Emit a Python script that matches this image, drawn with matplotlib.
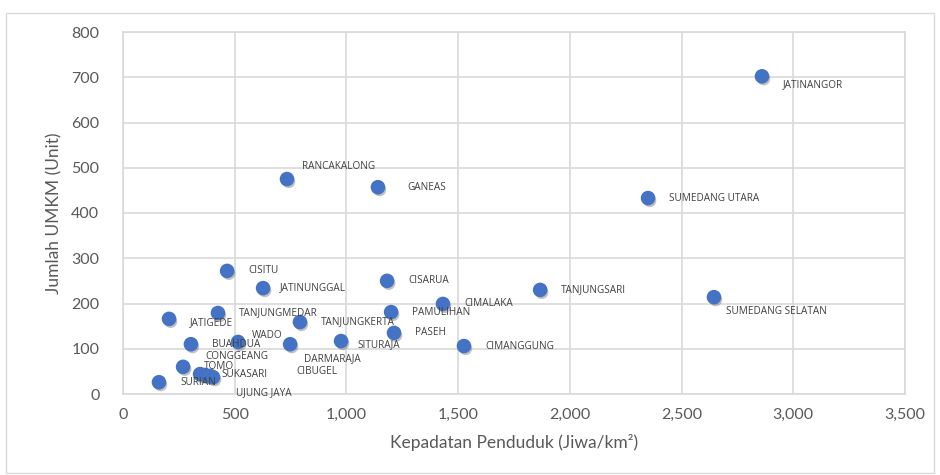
import numpy as np
import matplotlib
matplotlib.use("Agg")
import matplotlib.pyplot as plt
import matplotlib.patheffects as pe
from matplotlib.patches import Rectangle

names = ["JATINANGOR", "SUMEDANG UTARA", "SUMEDANG SELATAN", "TANJUNGSARI",
         "CIMANGGUNG", "CIMALAKA", "PAMULIHAN", "PASEH", "CISARUA", "GANEAS",
         "RANCAKALONG", "CISITU", "JATINUNGGAL", "TANJUNGMEDAR", "JATIGEDE",
         "TANJUNGKERTA", "WADO", "BUAHDUA", "DARMARAJA", "SITURAJA",
         "TOMO", "SUKASARI", "UJUNG JAYA", "CONGGEANG", "CIBUGEL", "SURIAN"]
kepadatan = [2860, 2350, 2645, 1867, 1526, 1432, 1200, 1213, 1182, 1141,
             734, 466, 627, 425, 206, 792, 515, 304, 748, 976,
             269, 345, 403, 367, 390, 161]
umkm = [702, 433, 214, 230, 106, 199, 181, 135, 250, 457,
        475, 272, 234, 179, 166, 159, 115, 110, 110, 117,
        60, 44, 37, 42, 40, 26]

# label offsets in pixels (layout only)
offsets = {"SUMEDANG SELATAN": (12, -14), "GANEAS": (29, 0), "RANCAKALONG": (15, 13),
           "JATINUNGGAL": (17, 0), "JATIGEDE": (21, -4), "WADO": (14, 6),
           "DARMARAJA": (14, -14), "SITURAJA": (16, -4), "UJUNG JAYA": (23, -15),
           "CONGGEANG": (0, 18), "CIBUGEL": (86, 4), "JATINANGOR": (21, -8)}

GRID = "#d9d9d9"
TXT = "#595959"
FONT = "Lato"

fig = plt.figure(figsize=(9.4, 4.75), dpi=100)
fig.patches.append(Rectangle((6 / 940, 0.005), 928 / 940, 1 - 13 / 475 - 0.005,
                             transform=fig.transFigure, fill=False,
                             edgecolor=GRID, linewidth=1))
ax = fig.add_axes([123 / 940, 1 - 394 / 475, 782 / 940, 362 / 475])

ax.scatter(kepadatan, umkm, s=90, color="#4472C4", zorder=3,
           path_effects=[pe.SimplePatchShadow(offset=(1.2, -1.8), shadow_rgbFace="#666666", alpha=0.4),
                         pe.Normal()])

for n, x, y in zip(names, kepadatan, umkm):
    dx, dy = offsets.get(n, (21, 0))
    ax.annotate(n, (x, y), xytext=(dx, dy), textcoords="offset pixels",
                ha="left", va="center", fontsize=7.2, color="#404040",
                family="Open Sans", zorder=4)

ax.set_xlim(0, 3500)
ax.set_ylim(0, 800)
ax.set_xticks(np.arange(0, 3501, 500))
ax.set_yticks(np.arange(0, 801, 100))
ax.set_xticklabels([f"{v:,}" for v in range(0, 3501, 500)])
ax.tick_params(length=0, labelsize=11.5, labelcolor=TXT)
ax.tick_params(axis="y", pad=17)
ax.tick_params(axis="x", pad=10)
for lab in ax.get_xticklabels() + ax.get_yticklabels():
    lab.set_family(FONT)
ax.grid(True, color=GRID, linewidth=1.2)
ax.set_axisbelow(True)
for s in ax.spines.values():
    s.set_color(GRID)
    s.set_linewidth(1.2)

ax.set_xlabel("Kepadatan Penduduk (Jiwa/km²)", fontsize=12.5, color=TXT,
              family=FONT, labelpad=9)
ax.set_ylabel("Jumlah UMKM (Unit)", fontsize=12.5, color=TXT,
              family=FONT, labelpad=6)

fig.savefig("out.png", dpi=100)
